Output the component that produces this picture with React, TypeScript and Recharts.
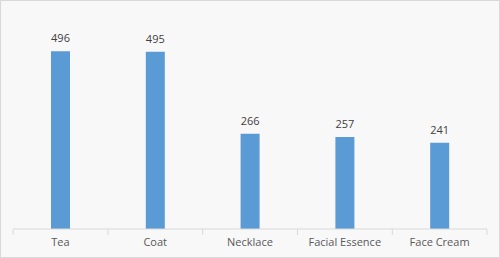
import React from 'react';
import { BarChart, Bar, XAxis, YAxis, LabelList } from 'recharts';

const categories = ['Tea', 'Coat', 'Necklace', 'Facial Essence', 'Face Cream'];
const sales = [496, 495, 266, 257, 241];

const data = categories.map((name, i) => ({ name, value: sales[i] }));

const AXIS_COLOR = '#D9D9D9';
const BAND = 473 / categories.length;

const CategoryTick = (props: any) => {
    const { x, y, payload, index } = props;
    const left = x - BAND / 2;
    return (
        <g>
            <line x1={left} y1={y} x2={left} y2={y + 6} stroke={AXIS_COLOR} />
            {index === categories.length - 1 && (
                <line x1={x + BAND / 2} y1={y} x2={x + BAND / 2} y2={y + 6} stroke={AXIS_COLOR} />
            )}
            <text x={x} y={y + 17} textAnchor="middle" fill="#595959" fontSize={11} fontFamily="'Open Sans', sans-serif">
                {payload.value}
            </text>
        </g>
    );
};

export default function App() {
    return (
        <div style={{ position: 'absolute', left: 0, top: 0, width: 500, height: 258, boxSizing: 'border-box', border: '1px solid #D9D9D9', background: '#F8F8F8' }}>
            <BarChart width={498} height={256} data={data} margin={{ top: 13, right: 12, left: 12, bottom: 0 }} barSize={19}>
                <YAxis hide domain={[0, 600]} />
                <XAxis
                    dataKey="name"
                    height={28}
                    axisLine={{ stroke: AXIS_COLOR }}
                    tickLine={false}
                    tickSize={0}
                    tickMargin={0}
                    interval={0}
                    tick={<CategoryTick />}
                />
                <Bar dataKey="value" fill="#5B9BD5" isAnimationActive={false}>
                    <LabelList dataKey="value" position="top" offset={9} fill="#404040" fontSize={11} fontFamily="'Open Sans', sans-serif" />
                </Bar>
            </BarChart>
        </div>
    );
}
